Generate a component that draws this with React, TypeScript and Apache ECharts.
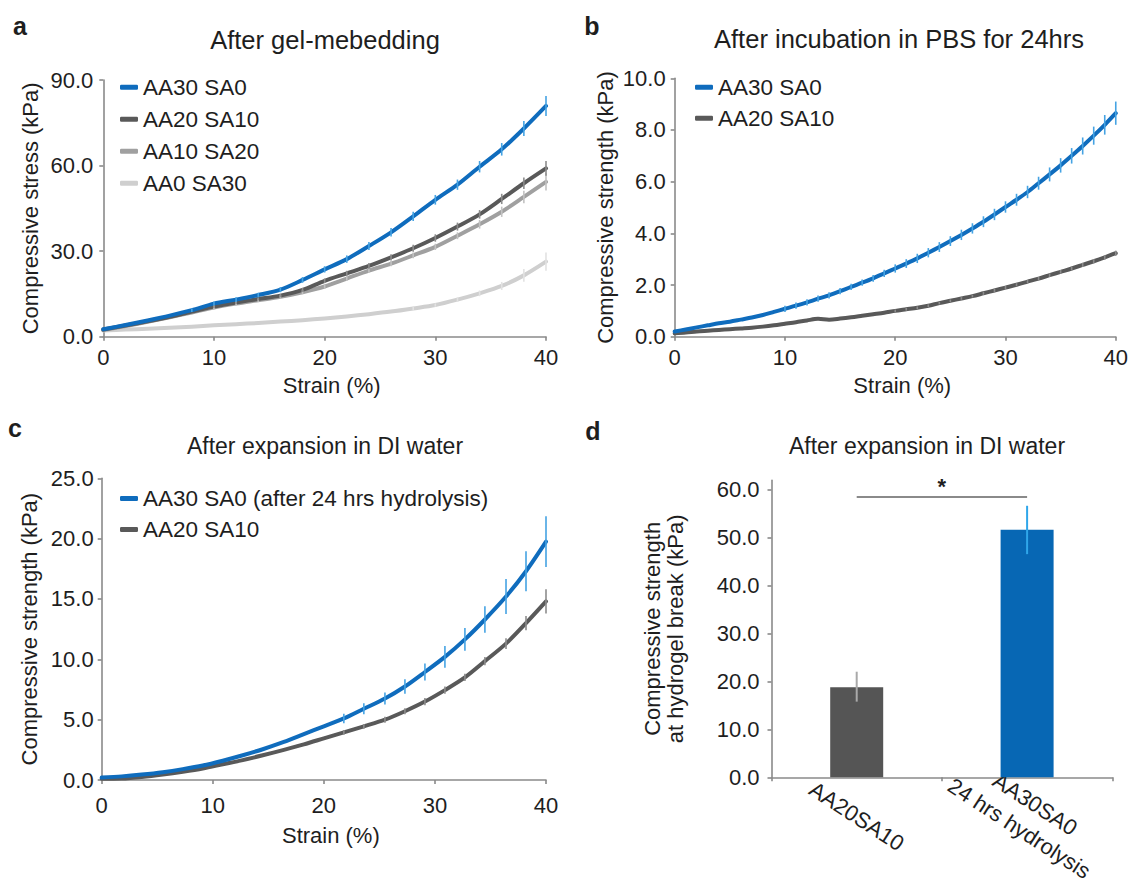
import React, { useEffect, useRef } from 'react';
import * as echarts from 'echarts';

const FONT = '"Liberation Sans", Arial, Helvetica, sans-serif';
const TEXT = '#1e1e1e';
const AXIS = '#8a8a8a';
const BLUE = '#0f6cbd';
const BLUE_ERR = '#45a3e3';
const DARK = '#595959';
const DARK_ERR = '#8c8c8c';
const MID = '#a0a0a0';
const MID_ERR = '#c2c2c2';
const LIGHT = '#cfcfcf';
const LIGHT_ERR = '#e2e2e2';
const BAR_GRAY = '#555555';
const BAR_BLUE = '#0767b4';
const BAR_GRAY_ERR = '#a9a9a9';
const BAR_BLUE_ERR = '#2fa6ea';

// ---------- Panel a: After gel-mebedding ----------
const strainA = [0, 2, 4, 6, 8, 10, 12, 14, 16, 18, 20, 22, 24, 26, 28, 30, 32, 34, 36, 38, 40];
const aAA30SA0 = [2.6, 4.1, 5.7, 7.4, 9.3, 11.6, 13.0, 14.6, 16.5, 19.9, 23.6, 27.2, 31.8, 36.6, 42.2, 48.0, 53.3, 59.6, 65.7, 73.0, 80.9];
const aAA30SA0Err = [0, 0, 0, 0, 0.6, 0.7, 0.8, 0.8, 0.9, 1.0, 1.1, 1.3, 1.4, 1.5, 1.6, 1.7, 1.8, 2.0, 2.2, 2.6, 3.5];
const aAA20SA10 = [2.5, 3.9, 5.4, 7.0, 8.8, 10.6, 12.0, 13.2, 14.4, 16.4, 19.6, 22.2, 24.8, 27.8, 31.0, 34.6, 38.6, 42.9, 48.3, 53.8, 59.0];
const aAA20SA10Err = [0, 0, 0, 0, 0, 0.5, 0.5, 0.5, 0.6, 0.7, 0.8, 0.9, 1.0, 1.1, 1.2, 1.3, 1.4, 1.5, 1.8, 2.0, 2.6];
const aAA10SA20 = [2.3, 3.7, 5.2, 6.8, 8.5, 10.2, 11.6, 12.8, 14.0, 15.6, 17.6, 20.4, 23.2, 25.6, 28.5, 31.5, 35.4, 39.4, 43.8, 49.0, 54.3];
const aAA10SA20Err = [0, 0, 0, 0, 0, 0.6, 0.6, 0.6, 0.6, 0.7, 0.7, 0.8, 0.8, 0.9, 1.0, 1.1, 1.2, 1.5, 1.8, 2.2, 3.0];
const aAA0SA30 = [2.2, 2.5, 2.8, 3.1, 3.5, 4.0, 4.4, 4.8, 5.3, 5.8, 6.4, 7.1, 7.9, 8.8, 9.9, 11.1, 13.0, 15.2, 17.8, 21.5, 26.3];
const aAA0SA30Err = [0, 0, 0, 0, 0, 0, 0, 0, 0, 0, 0, 0, 0, 0, 0.5, 0.6, 0.8, 1.0, 1.4, 2.2, 3.2];

// ---------- Panel b: After incubation in PBS for 24hrs ----------
const strainB = [0, 1, 2, 3, 4, 5, 6, 7, 8, 9, 10, 11, 12, 13, 14, 15, 16, 17, 18, 19, 20, 21, 22, 23, 24, 25, 26, 27, 28, 29, 30, 31, 32, 33, 34, 35, 36, 37, 38, 39, 40];
const bAA30SA0 = [0.20, 0.28, 0.36, 0.44, 0.52, 0.58, 0.66, 0.74, 0.84, 0.96, 1.08, 1.20, 1.33, 1.47, 1.60, 1.76, 1.93, 2.09, 2.26, 2.45, 2.64, 2.83, 3.03, 3.25, 3.47, 3.70, 3.94, 4.19, 4.45, 4.73, 5.02, 5.30, 5.60, 5.94, 6.28, 6.63, 7.00, 7.38, 7.78, 8.20, 8.65];
const bAA30SA0Err = [0, 0, 0, 0, 0, 0, 0, 0, 0, 0, 0.12, 0.12, 0.12, 0.12, 0.12, 0.12, 0.12, 0.12, 0.13, 0.14, 0.16, 0.17, 0.18, 0.18, 0.19, 0.19, 0.2, 0.2, 0.21, 0.22, 0.22, 0.23, 0.24, 0.25, 0.27, 0.28, 0.3, 0.33, 0.35, 0.38, 0.45];
const bAA20SA10 = [0.13, 0.16, 0.20, 0.23, 0.26, 0.29, 0.32, 0.35, 0.39, 0.44, 0.50, 0.56, 0.63, 0.69, 0.66, 0.70, 0.75, 0.81, 0.87, 0.93, 1.00, 1.06, 1.12, 1.20, 1.30, 1.39, 1.48, 1.57, 1.68, 1.79, 1.90, 2.01, 2.13, 2.25, 2.38, 2.51, 2.64, 2.78, 2.92, 3.07, 3.23];
const bAA20SA10Err = [0, 0, 0, 0, 0, 0, 0, 0, 0, 0, 0, 0, 0, 0, 0, 0, 0, 0, 0, 0, 0.05, 0.05, 0.05, 0.05, 0.05, 0.05, 0.05, 0.05, 0.06, 0.06, 0.06, 0.06, 0.06, 0.06, 0.07, 0.07, 0.07, 0.08, 0.08, 0.09, 0.1];

// ---------- Panel c: After expansion in DI water ----------
const strainC = [0, 1.8, 3.6, 5.5, 7.3, 9.1, 10.9, 12.7, 14.5, 16.4, 18.2, 20.0, 21.8, 23.6, 25.5, 27.3, 29.1, 30.9, 32.7, 34.5, 36.4, 38.2, 40.0];
const cAA30SA0 = [0.2, 0.3, 0.45, 0.65, 0.9, 1.2, 1.6, 2.05, 2.55, 3.15, 3.8, 4.45, 5.1, 5.9, 6.75, 7.75, 8.95, 10.2, 11.65, 13.3, 15.2, 17.3, 19.75];
const cAA30SA0Err = [0, 0, 0, 0, 0, 0, 0, 0, 0, 0, 0, 0, 0.4, 0.45, 0.5, 0.6, 0.7, 0.9, 0.95, 1.1, 1.45, 1.65, 2.1];
const cAA20SA10 = [0.1, 0.12, 0.25, 0.45, 0.68, 0.95, 1.3, 1.65, 2.05, 2.5, 2.95, 3.45, 3.95, 4.45, 5.0, 5.7, 6.5, 7.45, 8.5, 9.85, 11.3, 13.0, 14.8];
const cAA20SA10Err = [0, 0, 0, 0, 0, 0, 0, 0, 0, 0, 0, 0, 0.2, 0.2, 0.25, 0.25, 0.3, 0.3, 0.3, 0.35, 0.45, 0.6, 1.0];

// ---------- Panel d: strength at hydrogel break ----------
const barCategories = ['AA20SA10', 'AA30SA0\n24 hrs hydrolysis'];
const barValues = [18.8, 51.7];
const barErrLow = [15.8, 46.6];
const barErrHigh = [22.05, 56.7];
const barColors = [BAR_GRAY, BAR_BLUE];
const barErrColors = [BAR_GRAY_ERR, BAR_BLUE_ERR];
const sigLevel = 58.5;
const dTicks = [0, 10, 20, 30, 40, 50, 60];

function pairs(xs: number[], ys: number[]) {
  return xs.map((x, i) => [x, ys[i]]);
}

function lineSeries(name: string, xs: number[], ys: number[], color: string, idx: number, z = 3) {
  return {
    type: 'line',
    name,
    xAxisIndex: idx,
    yAxisIndex: idx,
    data: pairs(xs, ys),
    smooth: 0.3,
    showSymbol: false,
    symbol: 'none',
    lineStyle: { color, width: 4, cap: 'round', join: 'round' },
    itemStyle: { color },
    z,
    silent: true,
  };
}

function errSeries(id: string, xs: number[], ys: number[], es: number[], color: string, idx: number) {
  const data: number[][] = [];
  xs.forEach((x, i) => {
    if (es[i] > 0) data.push([x, ys[i] - es[i], ys[i] + es[i]]);
  });
  return {
    type: 'custom',
    name: id,
    xAxisIndex: idx,
    yAxisIndex: idx,
    data,
    encode: { x: 0, y: [1, 2] },
    z: 6,
    silent: true,
    renderItem: (_p: any, api: any) => {
      const x = api.value(0);
      const p1 = api.coord([x, api.value(1)]);
      const p2 = api.coord([x, api.value(2)]);
      return {
        type: 'line',
        shape: { x1: p1[0], y1: p1[1], x2: p2[0], y2: p2[1] },
        style: { stroke: color, lineWidth: 1.6 },
      };
    },
  };
}

const axisLine = { show: true, lineStyle: { color: AXIS, width: 1.6 } };
const axisTick = { show: true, length: 4, inside: false, lineStyle: { color: AXIS, width: 1.6 } };
const labelStyle = { color: TEXT, fontSize: 22, fontFamily: FONT };
const nameStyle = { color: TEXT, fontSize: 22, fontFamily: FONT };

function strainAxis(idx: number, gap: number, margin: number) {
  return {
    type: 'value',
    gridIndex: idx,
    min: 0,
    max: 40,
    interval: 10,
    name: 'Strain (%)',
    nameLocation: 'middle',
    nameGap: gap,
    nameTextStyle: { ...nameStyle, padding: [0, 0, 0, 14] },
    axisLine,
    axisTick,
    splitLine: { show: false },
    axisLabel: { ...labelStyle, margin },
  };
}

function valueAxis(idx: number, max: number, interval: number, name: string, gap: number, margin: number) {
  return {
    type: 'value',
    gridIndex: idx,
    min: 0,
    max,
    interval,
    name,
    nameLocation: 'middle',
    nameGap: gap,
    nameTextStyle: nameStyle,
    axisLine,
    axisTick,
    splitLine: { show: false },
    axisLabel: { ...labelStyle, margin, formatter: (v: number) => v.toFixed(1) },
  };
}

const legendBase = {
  orient: 'vertical',
  padding: 0,
  icon: 'roundRect',
  itemWidth: 18,
  itemHeight: 5,
  itemGap: 9,
  selectedMode: false,
  textStyle: { color: TEXT, fontSize: 22.5, fontFamily: FONT, lineHeight: 22 },
};

function txt(text: string, x: number, y: number, size: number, bold = false) {
  return {
    type: 'text',
    x,
    y,
    silent: true,
    style: {
      text,
      fill: TEXT,
      font: `${bold ? 'bold ' : ''}${size}px ${FONT}`,
      align: 'center',
      verticalAlign: 'middle',
    },
  };
}

export default function App() {
  const ref = useRef<HTMLDivElement>(null);

  useEffect(() => {
    if (!ref.current) return;
    const chart = echarts.init(ref.current, undefined, { renderer: 'svg' });
    const option: any = {
      animation: false,
      backgroundColor: '#ffffff',
      textStyle: { fontFamily: FONT },
      graphic: [
        txt('a', 20, 26, 25, true),
        txt('b', 592, 26, 25, true),
        txt('c', 15, 428, 25, true),
        txt('d', 593, 431, 25, true),
        txt('After gel-mebedding', 325, 40, 25.5),
        txt('After incubation in PBS for 24hrs', 899, 39, 25.5),
        txt('After expansion in DI water', 325, 446, 23),
        txt('After expansion in DI water', 927, 446, 23),
      ],
      grid: [
        { left: 103.3, top: 80, width: 442.7, height: 256.7, containLabel: false },
        { left: 674.7, top: 78.3, width: 444.3, height: 258.4, containLabel: false },
        { left: 101.7, top: 478.3, width: 444.3, height: 301.7, containLabel: false },
        { left: 771.5, top: 480.4, width: 340.8, height: 296.9, containLabel: false },
      ],
      legend: [
        { ...legendBase, left: 120, top: 75.7, data: ['AA30 SA0', 'AA20 SA10', 'AA10 SA20', 'AA0 SA30'] },
        { ...legendBase, left: 695, top: 75.7, itemGap: 8, data: ['AA30 SA0', 'AA20 SA10'] },
        { ...legendBase, left: 120, top: 487, itemGap: 8, data: ['AA30 SA0 (after 24 hrs hydrolysis)', 'AA20 SA10'] },
      ],
      xAxis: [
        strainAxis(0, 38, 10),
        strainAxis(1, 38, 10),
        strainAxis(2, 44, 14),
        {
          type: 'category',
          gridIndex: 3,
          data: barCategories,
          axisLine,
          axisTick: { ...axisTick, alignWithLabel: false },
          axisLabel: {
            ...labelStyle,
            interval: 0,
            rotate: -33,
            align: 'center',
            verticalAlign: 'middle',
            margin: 39,
            lineHeight: 29,
          },
        },
      ],
      yAxis: [
        valueAxis(0, 90, 30, 'Compressive stress (kPa)', 62, 10),
        valueAxis(1, 10, 2, 'Compressive strength (kPa)', 58, 9),
        valueAxis(2, 25, 5, 'Compressive strength (kPa)', 61, 8),
        {
          type: 'value',
          gridIndex: 3,
          min: 0,
          max: 62,
          name: 'Compressive strength\nat hydrogel break (kPa)',
          nameLocation: 'middle',
          nameGap: 85,
          nameTextStyle: { ...nameStyle, lineHeight: 23 },
          axisLine,
          axisTick: { ...axisTick, customValues: dTicks },
          splitLine: { show: false },
          axisLabel: { ...labelStyle, margin: 12, customValues: dTicks, formatter: (v: number) => v.toFixed(1) },
        },
      ],
      series: [
        // panel a
        lineSeries('AA0 SA30', strainA, aAA0SA30, LIGHT, 0, 2),
        lineSeries('AA10 SA20', strainA, aAA10SA20, MID, 0, 3),
        lineSeries('AA20 SA10', strainA, aAA20SA10, DARK, 0, 4),
        lineSeries('AA30 SA0', strainA, aAA30SA0, BLUE, 0, 5),
        errSeries('err-a-0', strainA, aAA0SA30, aAA0SA30Err, LIGHT_ERR, 0),
        errSeries('err-a-1', strainA, aAA10SA20, aAA10SA20Err, MID_ERR, 0),
        errSeries('err-a-2', strainA, aAA20SA10, aAA20SA10Err, DARK_ERR, 0),
        errSeries('err-a-3', strainA, aAA30SA0, aAA30SA0Err, BLUE_ERR, 0),
        // panel b
        lineSeries('AA20 SA10', strainB, bAA20SA10, DARK, 1, 4),
        lineSeries('AA30 SA0', strainB, bAA30SA0, BLUE, 1, 5),
        errSeries('err-b-0', strainB, bAA20SA10, bAA20SA10Err, DARK_ERR, 1),
        errSeries('err-b-1', strainB, bAA30SA0, bAA30SA0Err, BLUE_ERR, 1),
        // panel c
        lineSeries('AA20 SA10', strainC, cAA20SA10, DARK, 2, 4),
        lineSeries('AA30 SA0 (after 24 hrs hydrolysis)', strainC, cAA30SA0, BLUE, 2, 5),
        errSeries('err-c-0', strainC, cAA20SA10, cAA20SA10Err, DARK_ERR, 2),
        errSeries('err-c-1', strainC, cAA30SA0, cAA30SA0Err, BLUE_ERR, 2),
        // panel d
        {
          type: 'bar',
          name: 'strength at break',
          xAxisIndex: 3,
          yAxisIndex: 3,
          barWidth: 53,
          silent: true,
          data: barValues.map((v, i) => ({ value: v, itemStyle: { color: barColors[i] } })),
          markLine: {
            silent: true,
            symbol: 'none',
            lineStyle: { color: '#8a8a8a', width: 2, type: 'solid' },
            label: {
              show: true,
              position: 'middle',
              formatter: '*',
              color: TEXT,
              fontSize: 22,
              fontWeight: 'bold',
              fontFamily: FONT,
              distance: 0,
            },
            data: [[{ coord: [0, sigLevel] }, { coord: [1, sigLevel] }]],
          },
        },
        {
          type: 'custom',
          name: 'bar-err',
          xAxisIndex: 3,
          yAxisIndex: 3,
          z: 6,
          silent: true,
          data: barValues.map((_v, i) => [i, barErrLow[i], barErrHigh[i]]),
          encode: { x: 0, y: [1, 2] },
          renderItem: (params: any, api: any) => {
            const x = api.value(0);
            const p1 = api.coord([x, api.value(1)]);
            const p2 = api.coord([x, api.value(2)]);
            return {
              type: 'line',
              shape: { x1: p1[0], y1: p1[1], x2: p2[0], y2: p2[1] },
              style: { stroke: barErrColors[params.dataIndex], lineWidth: 2 },
            };
          },
        },
      ],
    };
    chart.setOption(option);
    return () => chart.dispose();
  }, []);

  return (
    <div
      ref={ref}
      style={{ position: 'absolute', left: 0, top: 0, width: 1131, height: 892, background: '#fff' }}
    />
  );
}
